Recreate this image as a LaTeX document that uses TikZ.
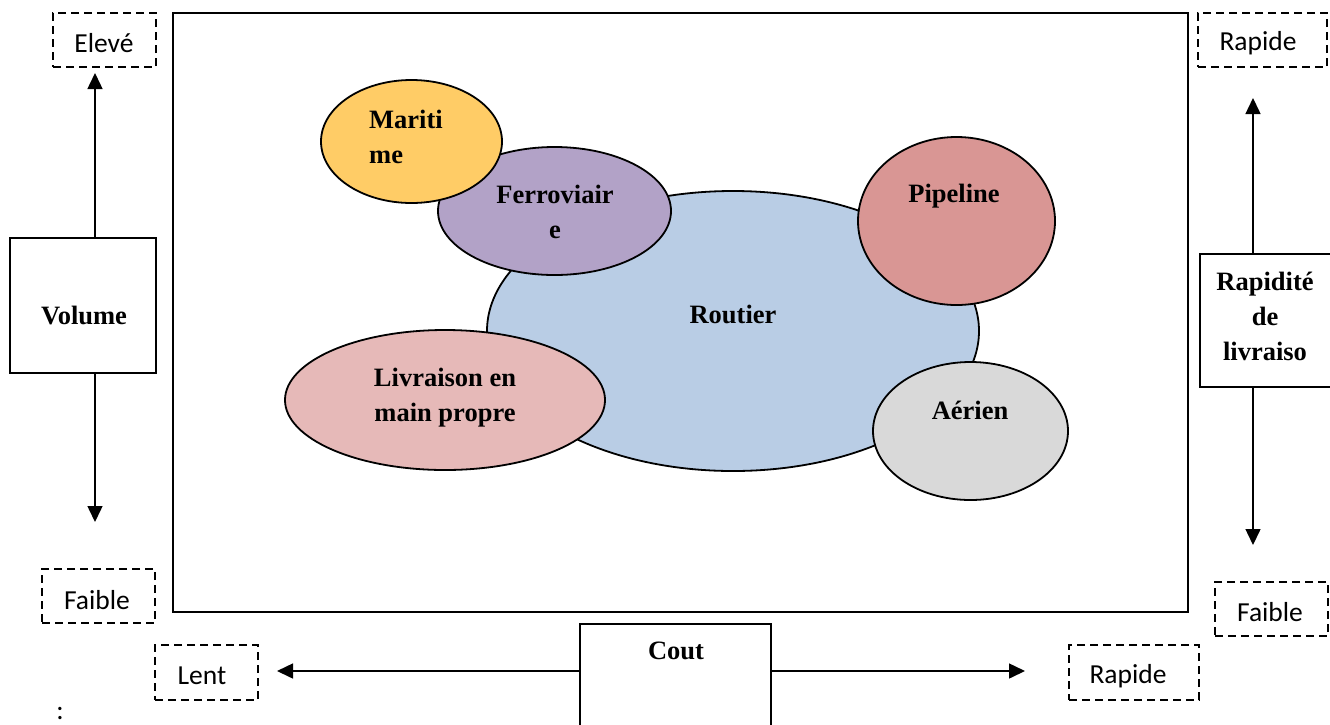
\documentclass[tikz,border=0pt]{standalone}
\usepackage{fontspec}
\setmainfont{Liberation Serif}
\newfontfamily\calfont{Carlito}
\usetikzlibrary{shapes.geometric,arrows.meta}
\definecolor{routc}{HTML}{B9CDE5}
\definecolor{maric}{HTML}{FFCC66}
\definecolor{ferrc}{HTML}{B2A2C7}
\definecolor{pipec}{HTML}{D99694}
\definecolor{livrc}{HTML}{E6B9B8}
\definecolor{aerc}{HTML}{D9D9D9}
\begin{document}
\begin{tikzpicture}[x=1pt,y=-1pt,
  dbox/.style={draw,line width=2.6pt,dash pattern=on 8pt off 5pt,inner sep=0pt},
  sbox/.style={draw,line width=1.6pt,inner sep=0pt},
  ell/.style={draw,ellipse,line width=1.8pt,inner sep=0pt},
  lbl/.style={font=\bfseries\fontsize{26.5}{35}\selectfont,inner sep=0pt,align=center},
  sfl/.style={font=\calfont\fontsize{27.5}{30}\selectfont,inner sep=0pt},
  arr/.style={line width=1.5pt,-{Triangle[width=15pt,length=16pt]}}]
\useasboundingbox (0,0) rectangle (1330,724);

% main frame
\node[sbox,line width=2pt,minimum width=1015pt,minimum height=599pt] (frame) at (680.5,312.5) {};

% ellipses
\node[ell,fill=routc,minimum width=492pt,minimum height=280pt] (rout) at (733,331) {};
\node[ell,fill=ferrc,minimum width=233pt,minimum height=128pt] (ferr) at (554.5,211) {};
\node[ell,fill=maric,minimum width=181pt,minimum height=123pt] (mari) at (411.5,141.5) {};
\node[ell,fill=pipec,minimum width=197pt,minimum height=168pt] (pipe) at (956.5,221) {};
\node[ell,fill=livrc,minimum width=320pt,minimum height=140pt] (livr) at (445,400) {};
\node[ell,fill=aerc,minimum width=195pt,minimum height=138pt] (aer) at (970.5,431) {};

\node[lbl] (troute) at (733,314) {Routier};
\node[lbl,align=left,anchor=west] (tmari) at (369,137) {Mariti\\me};
\node[lbl] (tferr) at (555,212) {Ferroviair\\e};
\node[lbl] (tpipe) at (954,196) {Pipeline};
\node[lbl] (tlivr) at (445,398) {Livraison en\\main propre};
\node[lbl] (taer) at (970,410) {Aérien};

% left side
\node[dbox,minimum width=103pt,minimum height=54pt] (elev) at (104.5,40) {};
\node[sfl] (telev) at (104,43) {Elevé};
\node[sbox,minimum width=146pt,minimum height=135pt] (vol) at (83,305.5) {};
\node[lbl] (tvol) at (84,315) {Volume};
\node[dbox,minimum width=113pt,minimum height=54pt] (faibl) at (98.5,596) {};
\node[sfl] (tfaibl) at (97,600) {Faible};
\coordinate (vup) at (95,73);
\coordinate (vdn) at (95,522);
\draw[arr] (vup |- vol.north) -- (vup);
\draw[arr] (vdn |- vol.south) -- (vdn);

% right side
\node[dbox,minimum width=129pt,minimum height=54pt] (rapt) at (1262.5,40) {};
\node[sfl] (trapt) at (1258,43) {Rapide};
\node[sbox,minimum width=140pt,minimum height=133pt] (rap) at (1270,320.5) {};
\node[lbl] (trap) at (1265,316) {Rapidité\\de\\livraiso};
\node[dbox,minimum width=113pt,minimum height=54pt] (faibr) at (1271.5,609) {};
\node[sfl] (tfaibr) at (1270,612) {Faible};
\coordinate (rup) at (1253,98);
\coordinate (rdn) at (1253,545);
\draw[arr] (rup |- rap.north) -- (rup);
\draw[arr] (rdn |- rap.south) -- (rdn);

% bottom
\node[sbox,minimum width=191pt,minimum height=106pt] (cout) at (675.5,677) {};
\node[lbl] (tcout) at (676,651) {Cout};
\node[dbox,minimum width=103pt,minimum height=55pt] (lent) at (206.5,672.5) {};
\node[sfl] (tlent) at (202,676) {Lent};
\node[dbox,minimum width=130pt,minimum height=55pt] (rapb) at (1134,672.5) {};
\node[sfl] (trapb) at (1128,676) {Rapide};
\coordinate (cl) at (277,671);
\coordinate (cr) at (1025,671);
\draw[arr] (cout.west |- cl) -- (cl);
\draw[arr] (cout.east |- cr) -- (cr);

\node[sfl] (colon) at (60,713) {:};
\end{tikzpicture}
\end{document}
